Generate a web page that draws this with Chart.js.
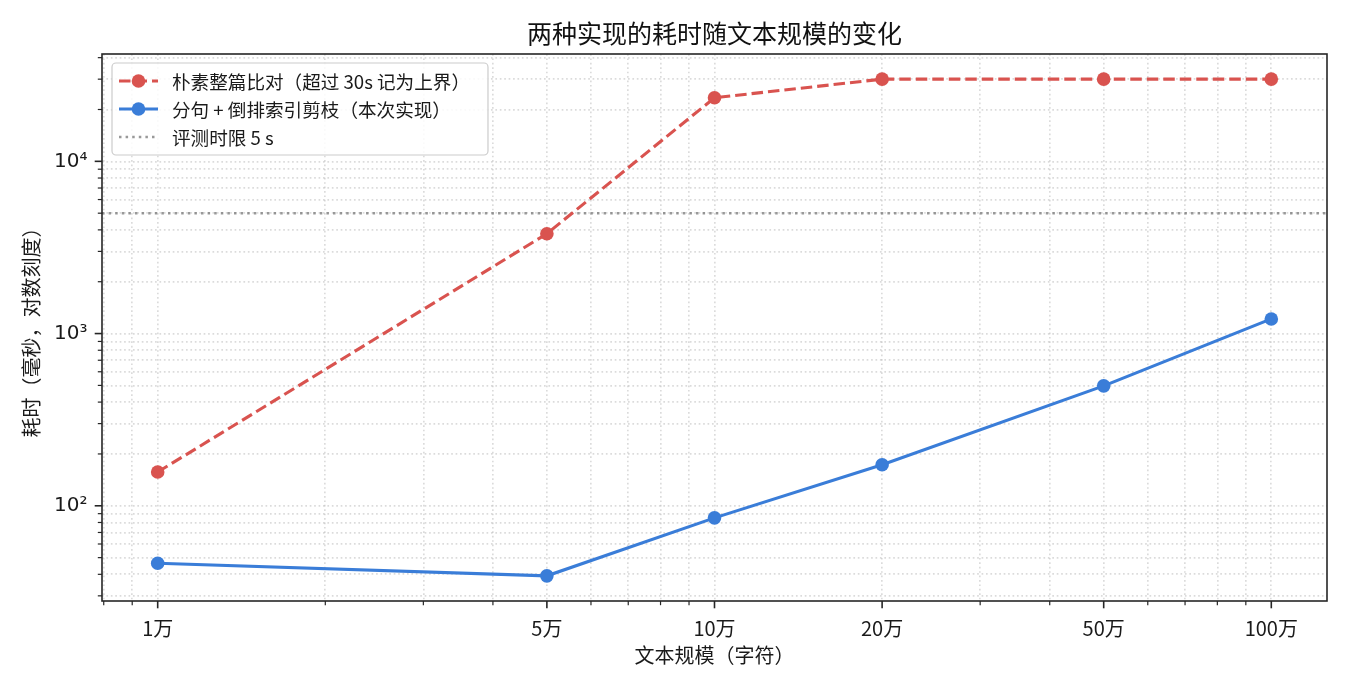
<!DOCTYPE html>
<html><head><meta charset="utf-8">
<script src="https://cdn.jsdelivr.net/npm/chart.js@4.4.1/dist/chart.umd.min.js"></script>
<style>html,body{margin:0;padding:0;background:#fff;}canvas{display:block;}</style>
</head><body>
<canvas id="c" width="1350" height="690"></canvas>
<script>
// ---- data ----
const titleText = '两种实现的耗时随文本规模的变化';
const xTitleText = '文本规模（字符）';
const yTitleText = '耗时（毫秒，对数刻度）';
const sizes = [10000, 50000, 100000, 200000, 500000, 1000000];
const sizeLabels = ['1万', '5万', '10万', '20万', '50万', '100万'];
const naiveMs = [157, 3800, 23400, 30000, 30000, 30000];
const indexedMs = [46.4, 39.2, 85.1, 173, 497, 1216];
const limitMs = 5000;
const seriesNames = ['朴素整篇比对（超过 30s 记为上界）', '分句 + 倒排索引剪枝（本次实现）', '评测时限 5 s'];
const xMinorTicks = [8000, 9000, 20000, 30000, 40000, 60000, 70000, 80000, 90000, 300000, 400000, 600000, 700000, 800000, 900000];
const yMajorTicks = [100, 1000, 10000];
const yMajorLabels = ['10²', '10³', '10⁴'];
const yMinorTicks = [30, 40, 50, 60, 70, 80, 90, 200, 300, 400, 500, 600, 700, 800, 900, 2000, 3000, 4000, 5000, 6000, 7000, 8000, 9000, 20000, 30000, 40000];
const xRange = [7943, 1259000];
const yRange = [28, 42000];

// ---- styles ----
const CJK = '"Noto Sans CJK SC", "Noto Sans", sans-serif';
const RED = '#d9534f', BLUE = '#3a7dd8', GRAY = 'rgba(128,128,128,0.8)';
const gridColor = 'rgba(176,176,176,0.45)';

const pts = (xs, ys) => xs.map((x, i) => ({x: x, y: ys[i]}));

const framePlugin = {
  id: 'frame',
  afterDraw(chart) {
    const {ctx, chartArea: a, scales} = chart;
    ctx.save();
    ctx.strokeStyle = '#262626';
    const xs = scales.x, ys = scales.y;
    xs.ticks.forEach(t => {
      const major = sizes.includes(t.value);
      const px = xs.getPixelForValue(t.value);
      ctx.lineWidth = major ? 1.6 : 1.2;
      ctx.beginPath(); ctx.moveTo(px, a.bottom); ctx.lineTo(px, a.bottom + (major ? 7.3 : 4.2)); ctx.stroke();
    });
    ys.ticks.forEach(t => {
      const major = yMajorTicks.includes(t.value);
      const py = ys.getPixelForValue(t.value);
      ctx.lineWidth = major ? 1.6 : 1.2;
      ctx.beginPath(); ctx.moveTo(a.left, py); ctx.lineTo(a.left - (major ? 7.3 : 4.2), py); ctx.stroke();
    });
    ctx.lineWidth = 1.6;
    ctx.strokeRect(a.left, a.top, a.right - a.left, a.bottom - a.top);

    // legend
    const dsets = chart.data.datasets;
    ctx.font = '18.6px ' + CJK;
    let maxW = 0;
    dsets.forEach(d => { maxW = Math.max(maxW, ctx.measureText(d.label).width); });
    const bx = a.left + 10, by = a.top + 9;
    const bw = 60 + maxW + 18, bh = 18 + 28 * (dsets.length - 1) + 18;
    ctx.beginPath();
    if (ctx.roundRect) ctx.roundRect(bx, by, bw, bh, 4); else ctx.rect(bx, by, bw, bh);
    ctx.fillStyle = 'rgba(255,255,255,0.85)';
    ctx.fill();
    ctx.lineWidth = 1.2; ctx.strokeStyle = '#cccccc'; ctx.stroke();
    dsets.forEach((d, i) => {
      const cy = by + 18 + 28 * i;
      const x0 = bx + 7, x1 = bx + 46;
      ctx.save();
      ctx.strokeStyle = d.borderColor; ctx.lineWidth = d.borderWidth;
      ctx.setLineDash(d.borderDash || []);
      ctx.beginPath(); ctx.moveTo(x0, cy); ctx.lineTo(x1, cy); ctx.stroke();
      ctx.restore();
      if (d.pointRadius > 0) {
        ctx.beginPath(); ctx.arc((x0 + x1) / 2, cy, d.pointRadius, 0, Math.PI * 2);
        ctx.fillStyle = d.pointBackgroundColor; ctx.fill();
      }
      ctx.fillStyle = '#1a1a1a'; ctx.textBaseline = 'middle'; ctx.textAlign = 'left';
      ctx.fillText(d.label, bx + 60, cy + 1);
    });
    ctx.restore();
  }
};

function build() {
  new Chart(document.getElementById('c'), {
    type: 'line',
    data: {
      datasets: [
        {label: seriesNames[0], data: pts(sizes, naiveMs), borderColor: RED, backgroundColor: RED,
         pointBackgroundColor: RED, borderWidth: 3.1, borderDash: [11.5, 5], pointRadius: 6.8, pointBorderWidth: 0, tension: 0},
        {label: seriesNames[1], data: pts(sizes, indexedMs), borderColor: BLUE, backgroundColor: BLUE,
         pointBackgroundColor: BLUE, borderWidth: 3.1, pointRadius: 6.8, pointBorderWidth: 0, tension: 0},
        {label: seriesNames[2], data: pts(xRange, [limitMs, limitMs]), borderColor: GRAY, backgroundColor: GRAY,
         borderWidth: 2.5, borderDash: [2.5, 4.1], pointRadius: 0, tension: 0}
      ]
    },
    options: {
      responsive: false, animation: false, events: [],
      devicePixelRatio: 1,
      layout: {padding: {left: 0, right: 23, top: 0, bottom: 0}},
      plugins: {
        legend: {display: false}, tooltip: {enabled: false},
        title: {display: true, text: titleText, fullSize: false, color: '#111',
                font: {family: CJK, size: 25, weight: 'normal'}, padding: {top: 18.5, bottom: 5.5}}
      },
      scales: {
        x: {
          type: 'logarithmic', min: xRange[0], max: xRange[1],
          afterBuildTicks: s => { s.ticks = sizes.concat(xMinorTicks).sort((a, b) => a - b).map(v => ({value: v})); },
          afterFit: s => { s.height = 89; },
          ticks: {autoSkip: false, maxRotation: 0, minRotation: 0, padding: 15, color: '#1a1a1a',
                  font: {family: CJK, size: 20},
                  callback: v => { const i = sizes.indexOf(v); return i >= 0 ? sizeLabels[i] : ''; }},
          grid: {color: gridColor, lineWidth: 1.67, drawTicks: false},
          border: {display: false, dash: [1.67, 2.75]},
          title: {display: true, text: xTitleText, color: '#1a1a1a', font: {family: CJK, size: 20}, padding: {top: 0, bottom: 23}}
        },
        y: {
          type: 'logarithmic', min: yRange[0], max: yRange[1],
          afterBuildTicks: s => { s.ticks = yMajorTicks.concat(yMinorTicks).sort((a, b) => a - b).map(v => ({value: v})); },
          afterFit: s => { s.width = 102; },
          ticks: {autoSkip: false, padding: 14.5, color: '#1a1a1a', font: {family: '"DejaVu Sans", sans-serif', size: 20},
                  callback: v => { const i = yMajorTicks.indexOf(v); return i >= 0 ? yMajorLabels[i] : ''; }},
          grid: {color: gridColor, lineWidth: 1.67, drawTicks: false},
          border: {display: false, dash: [1.67, 2.75]},
          title: {display: true, text: yTitleText, color: '#1a1a1a', font: {family: CJK, size: 20}, padding: {top: 19.5, bottom: 0}}
        }
      }
    },
    plugins: [framePlugin]
  });
}
if (document.fonts && document.fonts.load) {
  Promise.all([document.fonts.load('20px "Noto Sans CJK SC"'), document.fonts.load('20px "DejaVu Sans"')])
    .then(build, build);
} else { build(); }
</script>
</body></html>
